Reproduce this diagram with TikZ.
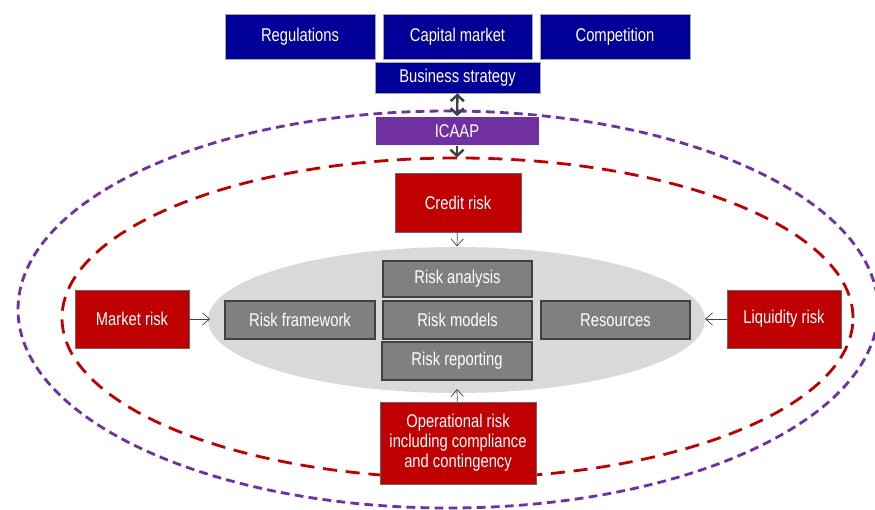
\documentclass[tikz,border=0pt]{standalone}
\usepackage{fontspec}
\setmainfont{Liberation Sans}[FakeStretch=0.8]
\usetikzlibrary{calc}
\usetikzlibrary{arrows.meta}
\definecolor{navybox}{HTML}{000099}
\definecolor{icaapviolet}{HTML}{7030A0}
\definecolor{riskred}{HTML}{C00000}
\definecolor{corebox}{HTML}{808080}
\definecolor{coreoval}{HTML}{D9D9D9}
\definecolor{linkgrey}{HTML}{404040}
\tikzset{
	box/.style={
			rectangle, text=white, inner sep=1pt, align=center,
			font=\fontsize{10.5}{11.5}\selectfont
		},
	bluebox/.style={box, fill=navybox, draw=gray!70},
	icaapbox/.style={box, fill=icaapviolet, draw=white},
	redbox/.style={box, fill=riskred, draw=gray!80!black},
	greybox/.style={box, fill=corebox, draw=linkgrey, thick},
	feeds/.style={draw=linkgrey, -{Straight Barb[length=4pt,width=7pt]}},
	links/.style={draw=linkgrey, line width=1.4pt, -{Straight Barb[length=3.5pt,width=7.5pt]}},
	twoway/.style={links, {Straight Barb[length=3.5pt,width=7.5pt]}-{Straight Barb[length=3.5pt,width=7.5pt]}}
}

\begin{document}
\begin{tikzpicture}
			\useasboundingbox (0,0) rectangle (17.5,-10.2);

			% outer rings
			\draw[icaapviolet, line width=1.6pt, dash pattern=on 5pt off 3pt] (8.96,-6.19) ellipse (8.6 and 3.97);
			\draw[riskred, line width=1.6pt, dash pattern=on 8pt off 5pt] (9.15,-6.36) ellipse (7.91 and 3.2);
			\fill[coreoval] (9.13,-6.4) ellipse (4.97 and 1.46);

			% environment
			\node[bluebox, minimum width=3cm, minimum height=0.9cm] (regulations) at (6.0,-0.73) {Regulations};
			\node[bluebox, minimum width=2.98cm, minimum height=0.9cm] (capital) at (9.15,-0.73) {Capital market};
			\node[bluebox, minimum width=3cm, minimum height=0.9cm] (competition) at (12.3,-0.73) {Competition};
			\node[bluebox, minimum width=3.3cm, minimum height=0.62cm] (strategy) at (9.15,-1.55) {Business strategy};
			\node[icaapbox, minimum width=3.28cm, minimum height=0.58cm] (icaap) at (9.14,-2.62) {ICAAP};
			\coordinate (redtop) at (9.14,-3.15);

			% core
			\node[greybox, minimum width=2.98cm, minimum height=0.72cm] (analysis) at (9.15,-5.58) {Risk analysis};
			\node[greybox, minimum width=2.98cm, minimum height=0.76cm] (models) at (9.15,-6.4) {Risk models};
			\node[greybox, minimum width=3cm, minimum height=0.76cm] (reporting) at (9.14,-7.22) {Risk reporting};
			\node[greybox, minimum width=3cm, minimum height=0.76cm] (framework) at (6.0,-6.4) {Risk framework};
			\node[greybox, minimum width=2.98cm, minimum height=0.76cm] (resources) at (12.31,-6.4) {Resources};

			% risk types
			\node[redbox, minimum width=2.52cm, minimum height=1.18cm] (credit) at (9.16,-4.05) {Credit risk};
			\node[redbox, minimum width=2.28cm, minimum height=1.16cm] (market) at (2.64,-6.38) {Market risk};
			\node[redbox, minimum width=2.28cm, minimum height=1.16cm] (liquidity) at (15.68,-6.38) {Liquidity risk};
			\node[redbox, minimum width=3.12cm, minimum height=1.64cm] (operational) at (9.16,-8.86) {Operational risk\\including compliance\\and contingency};

			\coordinate (ovaltop) at (9.14,-4.93);
			\coordinate (ovalleft) at (4.2,-6.38);
			\coordinate (ovalright) at (14.1,-6.38);
			\coordinate (ovalbottom) at (9.14,-7.78);

			\draw[twoway] (strategy) -- (icaap);
			\draw[links] (icaap) -- (redtop);
			\draw[feeds] (credit) -- (ovaltop);
			\draw[feeds] (market) -- (ovalleft);
			\draw[feeds] (liquidity) -- (ovalright);
			\draw[feeds] (operational) -- (ovalbottom);
		\end{tikzpicture}
\end{document}
